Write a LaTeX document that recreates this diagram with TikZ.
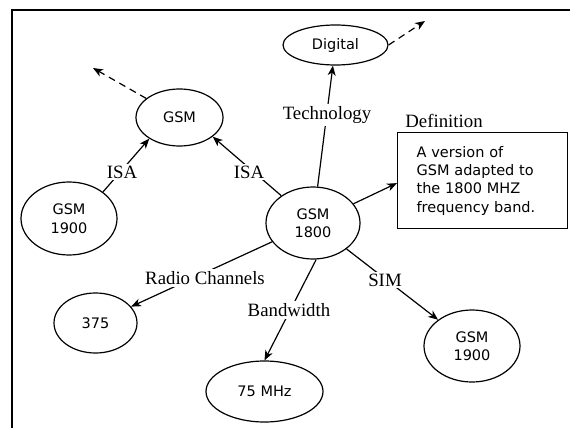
\documentclass[tikz,border=0pt]{standalone}
\usepackage{fontspec}
\setmainfont{Liberation Serif}
\newfontfamily\cmapfont{DejaVu Sans}
\usetikzlibrary{shapes.geometric,arrows.meta}
\begin{document}
\begin{tikzpicture}[x=1pt,y=-1pt,
  concept/.style={ellipse,draw,line width=1.2pt,inner sep=0pt,align=center,
     font=\cmapfont\fontsize{14.5}{18.5}\selectfont},
  lbl/.style={fill=white,inner sep=2pt,font=\fontsize{18.8}{20}\selectfont},
  link/.style={line width=1.2pt},
  arr/.style={link,-{Stealth[length=10pt,width=8pt,inset=3pt]}},
  darr/.style={arr,dash pattern=on 7pt off 5pt}]
\useasboundingbox (0,0) rectangle (570,428);
\draw[line width=1.3pt] (12,428) -- (12,10) -- (570,10);

\node[concept,minimum width=105pt,minimum height=40pt] (digital) at (335.5,45) {Digital};
\node[concept,minimum width=87pt,minimum height=57pt] (gsm) at (179.5,117.5) {GSM};
\node[concept,minimum width=96pt,minimum height=73pt] (gsmA) at (69,218.5) {GSM\\1900};
\node[concept,minimum width=94pt,minimum height=72pt] (gsmB) at (313,223) {GSM\\1800};
\node[concept,minimum width=83pt,minimum height=60pt] (n375) at (95.5,323) {375};
\node[concept,minimum width=117pt,minimum height=61pt] (n75) at (264.5,391.5) {75 MHz};
\node[concept,minimum width=96pt,minimum height=72pt] (gsmC) at (472,346) {GSM\\1900};
\node[draw,line width=1.2pt,anchor=north west,minimum width=170pt,minimum height=96pt,
  inner xsep=19pt,inner ysep=0pt,text width=132pt,align=left,
  font=\cmapfont\fontsize{14.5}{18.3}\selectfont] (def) at (397,132)
  {A version of\\GSM adapted to\\the 1800 MHZ\\frequency band.};

\coordinate (gsmOut) at (93,68);
\coordinate (digOut) at (425,21);

\draw[darr] (gsm) -- (gsmOut);
\draw[darr] (digital.east) -- (digOut);
\draw[arr] (gsmB) -- (digital);
\draw[arr] (gsmA.38) -- (gsm.-145);
\draw[arr] (gsmB) -- (gsm.-30);
\draw[arr] (gsmB) -- ([yshift=-2.5pt]def.west);
\draw[arr] (gsmB) -- (n375);
\draw[arr] (gsmB.-85) -- (n75.north);
\draw[arr] (gsmB) -- (gsmC);

\node[lbl] (tech) at (327,115) {Technology};
\node[lbl] (isa1) at (122,172) {ISA};
\node[lbl] (isa2) at (249,172) {ISA};
\node[lbl] (radio) at (205,278) {Radio Channels};
\node[lbl] (bw) at (289,310) {Bandwidth};
\node[lbl] (sim) at (385,280) {SIM};
\node[font=\fontsize{18.8}{20}\selectfont] (defl) at (444,121) {Definition};
\end{tikzpicture}
\end{document}
